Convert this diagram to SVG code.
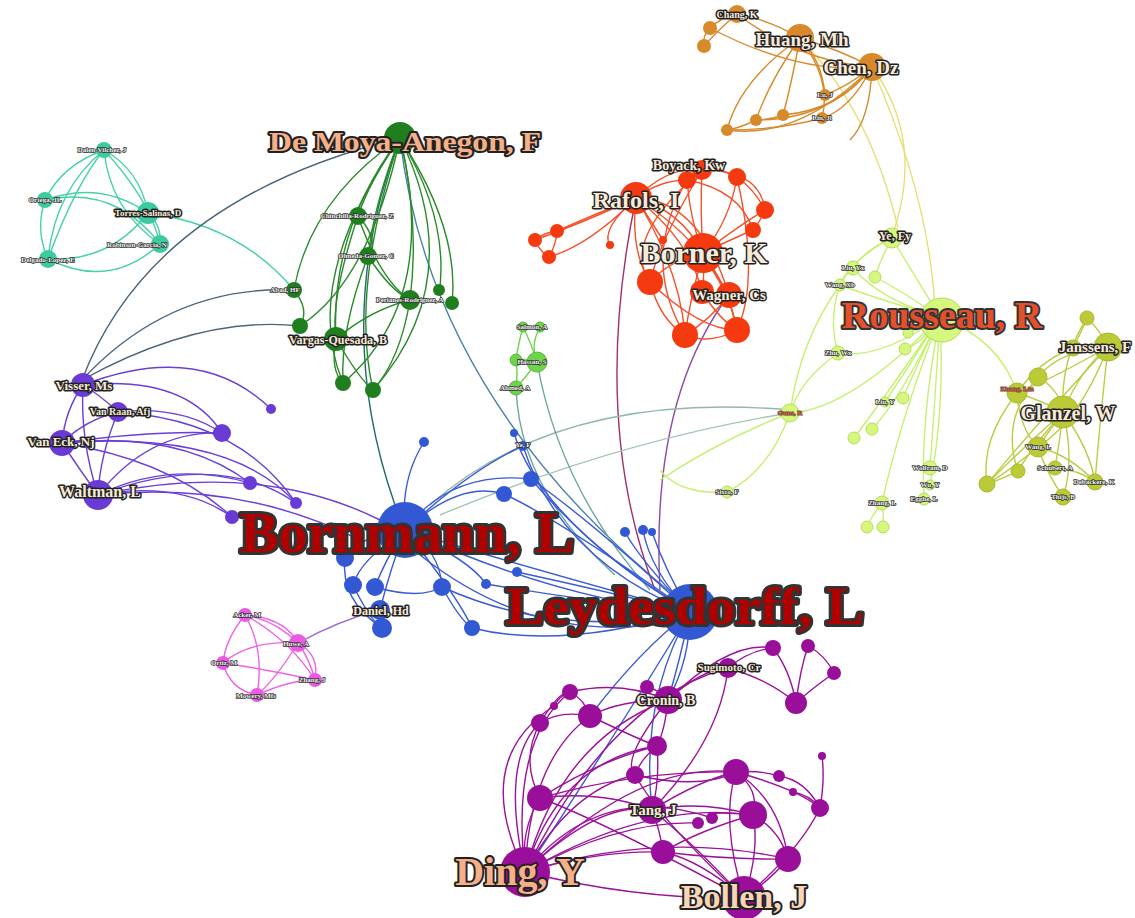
<svg xmlns="http://www.w3.org/2000/svg" width="1135" height="918" viewBox="0 0 1135 918">
<style>
path{fill:none;stroke-width:1.4}
.et{stroke:#45d2a8}.eg{stroke:#2a8a2a}.eo{stroke:#d8892a}.er{stroke:#f5502a}.el{stroke:#c8f070}.eol{stroke:#bccc44}
.ep{stroke:#6a3ed8}.epk{stroke:#ee62e6}.eb{stroke:#3a5ad8}.em{stroke:#9a129a}.esg{stroke:#70d450}
.ngrey{stroke:#4c6478}.ny{stroke:#e6e07a}
.nt{fill:#3ccaa0}.ng{fill:#1f7f1f}.no{fill:#d8892a}.nr{fill:#f53a10}.nl{fill:#d6f77e;stroke:#b4dc5c;stroke-width:1}.nol{fill:#bcca38;stroke:#a8b830;stroke-width:1}
.np{fill:#6a3ad6}.npk{fill:#ea5ae2}.nb{fill:#3358d4}.nm{fill:#990f99}.nsg{fill:#6ed44a;stroke:#58b83a;stroke-width:1}
text{font-family:"Liberation Serif",serif;font-weight:bold;text-anchor:middle;paint-order:stroke;stroke-linejoin:round}
.s{font-size:7px;fill:#f2f2f2;stroke:#333;stroke-width:1.5}
.m{fill:#f8ead8;stroke:#222;stroke-width:3}
.big{fill:#b00000;stroke:#333;stroke-width:6}
.ro{fill:#e4502c;stroke:#333;stroke-width:4}
.pe{fill:#f5b08a;stroke:#222;stroke-width:4}
.pl{fill:#f8d4b8;stroke:#222;stroke-width:4}
.rs{font-size:7px;fill:#e8562a;stroke:#555;stroke-width:1.2}
</style>
<rect width="1135" height="918" fill="#ffffff"/>
<g id="connectors">
<path class="et" d="M104 150 Q62 165 45 200"/>
<path class="et" d="M104 150 Q140 170 148 213"/>
<path class="et" d="M104 150 Q110 210 160 244"/>
<path class="et" d="M104 150 Q55 190 48 259"/>
<path class="et" d="M104 150 Q75 185 48 259"/>
<path class="et" d="M45 200 Q100 180 148 213"/>
<path class="et" d="M45 200 Q115 185 160 244"/>
<path class="et" d="M45 200 Q35 230 48 259"/>
<path class="et" d="M148 213 Q110 262 48 259"/>
<path class="et" d="M160 244 Q110 290 48 259"/>
<path class="et" d="M148 213 Q162 226 160 244"/>
<path class="et" d="M104 150 Q150 200 160 244"/>
<path class="et" d="M148 213 Q240 225 294 290"/>
<path class="ngrey" d="M82 380 Q150 200 400 138"/>
<path class="ngrey" d="M82 380 Q170 285 294 290"/>
<path class="ngrey" d="M82 380 Q200 315 300 326"/>
<path stroke="#1d6b6b" d="M400 138 Q330 320 395 505"/>
<path stroke="#4a82a8" d="M400 138 Q430 400 680 600"/>
<path stroke="#a0306a" stroke-width="2" d="M636 198 Q590 420 655 590"/>
<path stroke="#8a4aa8" d="M729 295 Q650 400 660 590"/>
<path stroke="#8fb8a6" d="M430 505 Q560 390 790 410"/>
<path stroke="#a0c8b0" d="M440 515 Q620 440 790 413"/>
<path stroke="#6aa8a0" d="M516 388 Q520 490 615 575"/>
<path stroke="#6aa8a0" d="M537 362 Q560 490 650 590"/>
<path class="ny" d="M872 67 Q925 140 893 233"/>
<path class="ny" d="M800 38 Q870 110 898 228"/>
<path class="ny" d="M872 67 Q930 200 935 310"/>
<path stroke="#a070d8" d="M298 643 Q340 620 380 610"/>
<path class="eg" stroke-width="2" d="M400 138 Q310 200 294 290"/>
<path class="eg" stroke-width="2" d="M400 138 Q370 280 300 326"/>
<path class="eg" d="M400 138 Q370 180 358 216"/>
<path class="eg" d="M400 138 Q375 200 368 256"/>
<path class="eg" d="M400 138 Q330 230 336 339"/>
<path class="eg" d="M400 138 Q420 220 410 300"/>
<path class="eg" d="M400 138 Q450 220 439 295"/>
<path class="eg" stroke-width="2" d="M400 138 Q460 230 452 303"/>
<path class="eg" d="M400 138 Q470 280 373 390"/>
<path class="eg" d="M400 138 Q440 300 343 383"/>
<path class="eg" d="M400 138 Q300 280 343 383"/>
<path class="eg" d="M400 138 Q350 290 373 390"/>
<path class="eg" d="M358 216 Q380 240 368 256"/>
<path class="eg" d="M358 216 Q330 300 336 339"/>
<path class="eg" d="M368 256 Q390 290 410 300"/>
<path class="eg" d="M358 216 Q380 280 410 300"/>
<path class="eg" d="M294 290 Q310 310 300 326"/>
<path class="eg" d="M336 339 Q370 310 410 300"/>
<path class="eg" d="M336 339 Q330 370 343 383"/>
<path class="eg" d="M336 339 Q360 380 373 390"/>
<path class="eg" d="M410 300 Q400 360 373 390"/>
<path class="eg" d="M368 256 Q340 330 343 383"/>
<path class="eo" d="M737 14 Q720 18 710 28"/>
<path class="eo" d="M710 28 Q702 36 704 46"/>
<path class="eo" d="M737 14 Q718 30 704 46"/>
<path class="eo" stroke-width="2" d="M737 14 Q770 20 800 38"/>
<path class="eo" d="M737 14 Q800 62 872 67"/>
<path class="eo" d="M710 28 Q800 75 872 67"/>
<path class="eo" stroke-width="5" d="M800 38 Q840 50 872 67"/>
<path class="eo" stroke-width="3" d="M800 38 Q790 90 783 115"/>
<path class="eo" d="M800 38 Q740 80 727 130"/>
<path class="eo" d="M800 38 Q770 80 756 120"/>
<path class="eo" d="M800 38 Q822 60 825 95"/>
<path class="eo" d="M800 38 Q832 80 822 118"/>
<path class="eo" stroke-width="3" d="M872 67 Q840 110 783 115"/>
<path class="eo" d="M872 67 Q830 120 756 120"/>
<path class="eo" d="M872 67 Q800 140 727 130"/>
<path class="eo" d="M872 67 Q850 85 825 95"/>
<path class="eo" d="M872 67 Q850 110 822 118"/>
<path class="eo" d="M756 120 Q740 128 727 130"/>
<path class="eo" d="M783 115 Q770 120 756 120"/>
<path class="eo" d="M727 130 Q780 130 822 118"/>
<path class="eo" d="M872 67 Q870 120 850 140"/>
<path class="er" d="M636 198 Q670 165 702 170"/>
<path class="er" d="M636 198 Q660 180 687 180"/>
<path class="er" d="M636 198 Q680 210 703 253"/>
<path class="er" d="M636 198 Q630 250 650 282"/>
<path class="er" d="M636 198 Q690 240 702 292"/>
<path class="er" d="M636 198 Q680 270 685 335"/>
<path class="er" d="M636 198 Q720 250 737 330"/>
<path class="er" d="M636 198 Q585 222 535 240"/>
<path class="er" d="M636 198 Q600 212 557 231"/>
<path class="er" d="M636 198 Q590 245 549 257"/>
<path class="er" d="M636 198 Q600 230 610 245"/>
<path class="er" d="M636 198 Q650 220 663 240"/>
<path class="er" d="M636 198 Q700 200 729 295"/>
<path class="er" d="M535 240 Q545 232 557 231"/>
<path class="er" d="M535 240 Q540 252 549 257"/>
<path class="er" d="M557 231 Q556 245 549 257"/>
<path class="er" d="M703 253 Q700 210 702 170"/>
<path class="er" d="M703 253 Q690 220 687 180"/>
<path class="er" d="M703 253 Q730 220 737 177"/>
<path class="er" d="M703 253 Q740 225 765 210"/>
<path class="er" d="M703 253 Q730 240 753 230"/>
<path class="er" d="M703 253 Q670 260 650 282"/>
<path class="er" d="M703 253 Q705 275 702 292"/>
<path class="er" d="M703 253 Q720 280 729 295"/>
<path class="er" d="M703 253 Q690 300 685 335"/>
<path class="er" d="M703 253 Q730 290 737 330"/>
<path class="er" d="M702 170 Q720 168 737 177"/>
<path class="er" d="M737 177 Q755 190 765 210"/>
<path class="er" d="M765 210 Q760 222 753 230"/>
<path class="er" d="M702 170 Q760 170 765 210"/>
<path class="er" d="M687 180 Q740 190 753 230"/>
<path class="er" d="M650 282 Q660 320 685 335"/>
<path class="er" d="M650 282 Q700 330 737 330"/>
<path class="er" d="M702 292 Q720 320 737 330"/>
<path class="er" d="M729 295 Q710 320 685 335"/>
<path class="er" d="M687 180 Q640 260 685 335"/>
<path class="er" d="M702 170 Q660 240 650 282"/>
<path class="er" d="M737 177 Q760 280 737 330"/>
<path class="er" d="M685 335 Q710 345 737 330"/>
<path class="er" d="M650 282 Q620 240 702 170"/>
<path class="el" stroke-width="4" d="M940 317 Q905 260 892 238"/>
<path class="el" d="M940 317 Q880 300 853 268"/>
<path class="el" d="M940 317 Q900 290 875 277"/>
<path class="el" d="M940 317 Q880 300 840 285"/>
<path class="el" stroke-width="3" d="M940 317 Q880 360 838 353"/>
<path class="el" d="M940 317 Q920 330 908 333"/>
<path class="el" d="M940 317 Q920 345 905 349"/>
<path class="el" stroke-width="4" d="M940 317 Q850 410 790 413"/>
<path class="el" d="M940 317 Q900 380 885 402"/>
<path class="el" d="M940 317 Q915 370 903 398"/>
<path class="el" d="M940 317 Q900 400 872 429"/>
<path class="el" d="M940 317 Q890 390 854 438"/>
<path class="el" d="M940 317 Q935 400 930 468"/>
<path class="el" d="M940 317 Q945 410 930 485"/>
<path class="el" d="M940 317 Q920 420 924 499"/>
<path class="el" d="M940 317 Q900 420 882 503"/>
<path class="el" d="M882 503 Q872 515 867 527"/>
<path class="el" d="M882 503 Q884 515 883 527"/>
<path class="el" d="M940 317 Q1000 340 1017 393"/>
<path class="el" d="M892 238 Q865 250 853 268"/>
<path class="el" d="M892 238 Q880 260 875 277"/>
<path class="el" d="M892 238 Q850 260 840 285"/>
<path class="el" d="M840 285 Q828 320 838 353"/>
<path class="el" d="M838 353 Q800 380 790 413"/>
<path class="el" d="M840 285 Q800 340 790 413"/>
<path class="el" d="M790 413 Q720 440 660 480"/>
<path class="el" d="M727 492 Q680 495 660 470"/>
<path class="el" d="M790 413 Q770 470 727 492"/>
<path class="el" d="M853 268 Q845 275 840 285"/>
<path class="eol" d="M1087 318 Q1100 330 1108 347"/>
<path class="eol" d="M1087 318 Q1080 335 1073 348"/>
<path class="eol" d="M1087 318 Q1060 360 1063 412"/>
<path class="eol" d="M1108 347 Q1080 370 1063 412"/>
<path class="eol" d="M1108 347 Q1060 350 1038 377"/>
<path class="eol" d="M1108 347 Q1050 380 1017 393"/>
<path class="eol" d="M1108 347 Q1080 420 1038 447"/>
<path class="eol" d="M1108 347 Q1040 420 987 484"/>
<path class="eol" d="M1108 347 Q1100 420 1095 482"/>
<path class="eol" d="M1073 348 Q1090 345 1108 347"/>
<path class="eol" d="M1073 348 Q1040 360 1017 393"/>
<path class="eol" d="M1038 377 Q1060 390 1063 412"/>
<path class="eol" d="M1017 393 Q1040 400 1063 412"/>
<path class="eol" d="M1017 393 Q1020 430 1038 447"/>
<path class="eol" d="M1017 393 Q980 440 987 484"/>
<path class="eol" d="M1063 412 Q1050 430 1038 447"/>
<path class="eol" d="M1063 412 Q1030 450 1018 471"/>
<path class="eol" d="M1063 412 Q1010 460 987 484"/>
<path class="eol" d="M1063 412 Q1060 440 1055 468"/>
<path class="eol" d="M1063 412 Q1090 450 1095 482"/>
<path class="eol" d="M1063 412 Q1075 460 1063 497"/>
<path class="eol" d="M1038 447 Q1045 470 1063 497"/>
<path class="eol" d="M1038 447 Q1070 455 1095 482"/>
<path class="eol" d="M1055 468 Q1080 470 1095 482"/>
<path class="eol" d="M1038 447 Q1010 470 987 484"/>
<path class="eol" d="M1018 471 Q1000 480 987 484"/>
<path class="eol" d="M1038 377 Q1000 420 1018 471"/>
<path class="ep" stroke-width="12" d="M62 443 Q80 470 98 495"/>
<path class="ep" stroke-width="4" d="M83 385 Q65 410 62 443"/>
<path class="ep" stroke-width="3" d="M83 385 Q80 440 98 495"/>
<path class="ep" stroke-width="2" d="M118 412 Q100 455 98 495"/>
<path class="ep" d="M118 412 Q85 420 62 443"/>
<path class="ep" d="M83 385 Q100 395 118 412"/>
<path class="ep" stroke-width="4" d="M83 385 Q185 375 222 433"/>
<path class="ep" stroke-width="3" d="M118 412 Q180 405 222 433"/>
<path class="ep" stroke-width="2" d="M62 443 Q150 430 222 433"/>
<path class="ep" stroke-width="3" d="M98 495 Q150 430 222 433"/>
<path class="ep" d="M83 385 Q200 340 271 409"/>
<path class="ep" d="M62 443 Q180 430 250 483"/>
<path class="ep" d="M98 495 Q170 460 250 483"/>
<path class="ep" d="M62 443 Q230 430 296 503"/>
<path class="ep" d="M98 495 Q220 450 296 503"/>
<path class="ep" d="M118 412 Q240 420 296 503"/>
<path class="ep" d="M98 495 Q180 480 232 517"/>
<path class="ep" d="M62 443 Q170 460 232 517"/>
<path class="ep" d="M98 495 Q260 460 380 520"/>
<path class="ep" d="M98 495 Q240 480 360 540"/>
<path class="epk" d="M245 615 Q275 620 298 643"/>
<path class="epk" d="M245 615 Q285 618 298 643"/>
<path class="epk" d="M245 615 Q225 640 223 663"/>
<path class="epk" d="M245 615 Q290 640 315 680"/>
<path class="epk" d="M245 615 Q265 650 257 695"/>
<path class="epk" d="M298 643 Q250 640 223 663"/>
<path class="epk" d="M298 643 Q310 660 315 680"/>
<path class="epk" d="M298 643 Q320 655 315 680"/>
<path class="epk" d="M298 643 Q275 680 257 695"/>
<path class="epk" d="M223 663 Q230 690 257 695"/>
<path class="epk" d="M223 663 Q270 670 315 680"/>
<path class="epk" d="M257 695 Q290 680 315 680"/>
<path class="eb" stroke-width="8" d="M420 555 Q540 650 680 620"/>
<path class="eb" stroke-width="3" d="M405 530 Q560 600 690 612"/>
<path class="eb" d="M405 530 Q400 480 424 442"/>
<path class="eb" d="M405 530 Q450 470 531 479"/>
<path class="eb" d="M405 530 Q460 480 504 494"/>
<path class="eb" d="M405 530 Q470 470 523 446"/>
<path class="eb" d="M690 612 Q560 560 523 446"/>
<path class="eb" d="M690 612 Q540 520 514 433"/>
<path class="eb" d="M690 612 Q590 520 531 479"/>
<path class="eb" d="M690 612 Q560 520 504 494"/>
<path class="eb" d="M690 612 Q600 560 531 479"/>
<path class="eb" d="M690 612 Q640 560 625 532"/>
<path class="eb" d="M690 612 Q650 570 643 530"/>
<path class="eb" d="M690 612 Q665 570 652 532"/>
<path class="eb" d="M690 612 Q600 590 517 572"/>
<path class="eb" d="M690 612 Q580 600 486 584"/>
<path class="eb" d="M690 612 Q560 640 442 587"/>
<path class="eb" d="M690 612 Q560 650 472 628"/>
<path class="eb" d="M690 612 Q500 560 405 530"/>
<path class="eb" stroke-width="3" d="M405 530 Q360 535 345 558"/>
<path class="eb" stroke-width="3" d="M405 530 Q360 560 353 585"/>
<path class="eb" stroke-width="5" d="M405 530 Q385 560 375 587"/>
<path class="eb" stroke-width="6" d="M405 530 Q390 570 380 610"/>
<path class="eb" stroke-width="5" d="M405 530 Q440 550 442 587"/>
<path class="eb" d="M405 530 Q470 560 486 584"/>
<path class="eb" d="M405 530 Q460 600 472 628"/>
<path class="eb" d="M380 610 Q385 620 382 628"/>
<path class="eb" d="M345 558 Q340 600 382 628"/>
<path class="eb" d="M353 585 Q370 620 382 628"/>
<path class="eb" d="M442 587 Q460 620 472 628"/>
<path class="eb" d="M375 587 Q420 600 442 587"/>
<path class="eb" d="M690 612 Q680 660 668 700"/>
<path class="eb" d="M690 612 Q690 660 668 700"/>
<path class="eb" d="M690 612 Q640 700 652 810"/>
<path class="eb" d="M690 612 Q600 760 525 872"/>
<path class="eb" d="M690 612 Q640 650 590 716"/>
<path class="esg" d="M523 327 Q532 345 537 362"/>
<path class="esg" d="M540 327 Q530 345 537 362"/>
<path class="esg" d="M523 327 Q518 345 516 360"/>
<path class="esg" d="M516 360 Q518 375 516 388"/>
<path class="esg" d="M537 362 Q525 378 516 388"/>
<path class="esg" d="M516 360 Q528 358 537 362"/>
<path class="em" d="M525 872 Q500 760 540 723"/>
<path class="em" d="M525 872 Q510 740 570 692"/>
<path class="em" d="M525 872 Q530 760 590 716"/>
<path class="em" d="M525 872 Q560 760 657 746"/>
<path class="em" d="M525 872 Q570 790 635 775"/>
<path class="em" d="M525 872 Q520 830 540 798"/>
<path class="em" d="M525 872 Q600 800 652 810"/>
<path class="em" d="M525 872 Q600 850 663 852"/>
<path class="em" d="M525 872 Q640 760 736 772"/>
<path class="em" d="M525 872 Q650 800 753 815"/>
<path class="em" d="M525 872 Q660 830 788 859"/>
<path class="em" d="M525 872 Q640 900 744 898"/>
<path class="em" d="M525 872 Q560 740 668 700"/>
<path class="em" d="M525 872 Q620 820 698 823"/>
<path class="em" d="M525 872 Q470 760 554 706"/>
<path class="em" d="M525 872 Q600 780 712 818"/>
<path class="em" d="M525 872 Q610 700 728 668"/>
<path class="em" d="M744 898 Q690 840 652 810"/>
<path class="em" d="M744 898 Q700 860 663 852"/>
<path class="em" d="M744 898 Q760 850 753 815"/>
<path class="em" d="M744 898 Q720 820 736 772"/>
<path class="em" d="M744 898 Q770 880 788 859"/>
<path class="em" d="M744 898 Q800 850 820 808"/>
<path class="em" d="M744 898 Q660 820 635 775"/>
<path class="em" d="M744 898 Q600 820 540 798"/>
<path class="em" d="M668 700 Q660 690 647 687"/>
<path class="em" d="M668 700 Q620 680 570 692"/>
<path class="em" d="M668 700 Q620 700 590 716"/>
<path class="em" d="M668 700 Q665 730 657 746"/>
<path class="em" d="M668 700 Q700 670 728 668"/>
<path class="em" d="M668 700 Q730 640 773 648"/>
<path class="em" d="M668 700 Q620 760 635 775"/>
<path class="em" d="M728 668 Q750 650 773 648"/>
<path class="em" d="M728 668 Q770 680 796 703"/>
<path class="em" d="M728 668 Q720 740 652 810"/>
<path class="em" d="M773 648 Q790 670 796 703"/>
<path class="em" d="M808 646 Q800 670 796 703"/>
<path class="em" stroke-width="3" d="M834 673 Q810 690 796 703"/>
<path class="em" d="M808 646 Q825 655 834 673"/>
<path class="em" d="M570 692 Q560 695 554 706"/>
<path class="em" d="M570 692 Q585 700 590 716"/>
<path class="em" d="M540 723 Q560 710 590 716"/>
<path class="em" d="M540 723 Q560 690 570 692"/>
<path class="em" d="M657 746 Q640 760 635 775"/>
<path class="em" d="M657 746 Q600 760 540 798"/>
<path class="em" d="M657 746 Q660 780 652 810"/>
<path class="em" d="M540 798 Q600 790 652 810"/>
<path class="em" d="M540 798 Q640 770 736 772"/>
<path class="em" d="M652 810 Q700 780 736 772"/>
<path class="em" d="M652 810 Q660 830 663 852"/>
<path class="em" d="M652 810 Q700 800 753 815"/>
<path class="em" d="M663 852 Q700 830 753 815"/>
<path class="em" d="M736 772 Q760 790 753 815"/>
<path class="em" d="M736 772 Q780 800 788 859"/>
<path class="em" d="M753 815 Q780 830 788 859"/>
<path class="em" d="M736 772 Q760 770 779 776"/>
<path class="em" d="M779 776 Q805 780 820 808"/>
<path class="em" d="M793 792 Q810 795 820 808"/>
<path class="em" d="M822 756 Q825 780 820 808"/>
<path class="em" d="M736 772 Q800 790 820 808"/>
<path class="em" d="M753 815 Q700 810 712 818"/>
<path class="em" d="M590 716 Q640 740 657 746"/>
<path class="em" d="M540 723 Q520 760 540 798"/>
<path class="em" d="M635 775 Q700 790 736 772"/>
<path class="em" d="M663 852 Q730 860 788 859"/>
</g>
<g id="n-teal">
<circle class="nt" cx="104" cy="150" r="8"/><text class="s" x="102" y="152">Dalen-Vilchez, J</text>
<circle class="nt" cx="45" cy="200" r="8"/><text class="s" x="45" y="202">Ortega, JL</text>
<circle class="nt" cx="148" cy="213" r="11"/><text class="m" font-size="9" stroke-width="2" x="148" y="216">Torres-Salinas, D</text>
<circle class="nt" cx="160" cy="244" r="9"/><text class="s" x="137" y="247">Robinson-Garcia, N</text>
<circle class="nt" cx="48" cy="259" r="9"/><text class="s" x="48" y="262">Delgado-Lopez, E</text>
</g>
<g id="n-green">
<circle class="ng" cx="358" cy="216" r="9"/><text class="s" x="357" y="218">Chinchilla-Rodriguez, Z</text>
<circle class="ng" cx="368" cy="256" r="9"/><text class="s" x="366" y="258">Olmeda-Gomez, C</text>
<circle class="ng" cx="294" cy="290" r="8"/><text class="s" x="285" y="292">Abad, HF</text>
<circle class="ng" cx="300" cy="326" r="8"/>
<circle class="ng" cx="336" cy="339" r="12"/><text class="m" font-size="12" stroke-width="2.5" x="338" y="344">Vargas-Quesada, B</text>
<circle class="ng" cx="410" cy="300" r="10"/><text class="s" x="410" y="302">Perianes-Rodriguez, A</text>
<circle class="ng" cx="439" cy="290" r="6"/>
<circle class="ng" cx="452" cy="303" r="7"/>
<circle class="ng" cx="343" cy="383" r="8"/>
<circle class="ng" cx="373" cy="390" r="8"/>
<circle class="ng" cx="400" cy="138" r="16"/>
<text class="pe" font-size="28" x="405" y="151" textLength="272" lengthAdjust="spacingAndGlyphs">De Moya-Anegon, F</text>
</g>
<g id="n-orange">
<circle class="no" cx="710" cy="28" r="7"/>
<circle class="no" cx="704" cy="46" r="7"/>
<circle class="no" cx="737" cy="14" r="9"/><text class="m" font-size="10" stroke-width="2" x="737" y="18">Chang, K</text>
<circle class="no" cx="825" cy="95" r="6"/><text class="s" x="825" y="97">Lu, J</text>
<circle class="no" cx="822" cy="118" r="6"/><text class="s" x="822" y="120">Lin, Jl</text>
<circle class="no" cx="783" cy="115" r="6"/>
<circle class="no" cx="756" cy="120" r="6"/>
<circle class="no" cx="727" cy="130" r="6"/>
<circle class="no" cx="800" cy="38" r="14"/><text class="m" font-size="19" x="802" y="46">Huang, Mh</text>
<circle class="no" cx="872" cy="67" r="14"/><text class="m" font-size="19" x="861" y="74">Chen, Dz</text>
</g>
<g id="n-red">
<circle class="nr" cx="535" cy="240" r="7"/>
<circle class="nr" cx="557" cy="231" r="7"/>
<circle class="nr" cx="549" cy="257" r="7"/>
<circle class="nr" cx="610" cy="245" r="4"/>
<circle class="nr" cx="663" cy="240" r="4"/>
<circle class="nr" cx="702" cy="170" r="10"/>
<circle class="nr" cx="687" cy="180" r="9"/>
<circle class="nr" cx="737" cy="177" r="9"/>
<circle class="nr" cx="765" cy="210" r="9"/>
<circle class="nr" cx="753" cy="230" r="8"/>
<circle class="nr" cx="650" cy="282" r="13"/>
<circle class="nr" cx="702" cy="292" r="12"/>
<circle class="nr" cx="729" cy="295" r="13"/>
<circle class="nr" cx="685" cy="335" r="13"/>
<circle class="nr" cx="737" cy="330" r="13"/>
<circle class="nr" cx="636" cy="198" r="16"/>
<circle class="nr" cx="703" cy="253" r="20"/>
<text class="m" font-size="14" stroke-width="2.5" x="689" y="170">Boyack, Kw</text>
<text class="m" font-size="24" x="636" y="208">Rafols, I</text>
<text class="m" font-size="30" x="704" y="263">Borner, K</text>
<text class="m" font-size="15" stroke-width="2.5" x="729" y="300">Wagner, Cs</text>
</g>
<g id="n-lightgreen">
<circle class="nl" cx="892" cy="238" r="10"/><text class="m" font-size="12" stroke-width="2.5" x="895" y="240">Ye, Fy</text>
<circle class="nl" cx="853" cy="268" r="7"/><text class="s" x="853" y="270">Liu, Yx</text>
<circle class="nl" cx="875" cy="277" r="6"/>
<circle class="nl" cx="840" cy="285" r="6"/><text class="s" x="840" y="287">Wang, Xb</text>
<circle class="nl" cx="838" cy="353" r="7"/><text class="s" x="838" y="355">Zhu, Wx</text>
<circle class="nl" cx="908" cy="333" r="5"/>
<circle class="nl" cx="905" cy="349" r="6"/>
<circle class="nl" cx="790" cy="413" r="9"/><text class="rs" x="790" y="415">Guns, R</text>
<circle class="nl" cx="885" cy="402" r="5"/><text class="s" x="885" y="404">Liu, Y</text>
<circle class="nl" cx="903" cy="398" r="6"/>
<circle class="nl" cx="872" cy="429" r="6"/>
<circle class="nl" cx="854" cy="438" r="6"/>
<circle class="nl" cx="930" cy="468" r="7"/><text class="s" x="930" y="470">Wolfram, D</text>
<circle class="nl" cx="930" cy="485" r="5"/><text class="s" x="930" y="487">Wu, Y</text>
<circle class="nl" cx="924" cy="499" r="6"/><text class="s" x="924" y="501">Egghe, L</text>
<circle class="nl" cx="882" cy="503" r="7"/><text class="s" x="882" y="505">Zhang, L</text>
<circle class="nl" cx="867" cy="527" r="6"/>
<circle class="nl" cx="883" cy="527" r="6"/>
<circle class="nl" cx="727" cy="492" r="6"/><text class="s" x="727" y="494">Sixto, F</text>
<circle class="nl" cx="942" cy="320" r="22"/>
<text class="ro" font-size="38" x="942" y="328">Rousseau, R</text>
</g>
<g id="n-olive">
<circle class="nol" cx="1087" cy="318" r="7"/>
<circle class="nol" cx="1073" cy="348" r="8"/>
<circle class="nol" cx="1038" cy="377" r="9"/>
<circle class="nol" cx="1108" cy="347" r="14"/><text class="m" font-size="15" x="1095" y="352">Janssens, F</text>
<circle class="nol" cx="1017" cy="393" r="10"/><text class="rs" font-size="9" x="1017" y="391">Zhang, Lin</text>
<circle class="nol" cx="1063" cy="412" r="16"/><text class="m" font-size="20" x="1068" y="420">Glanzel, W</text>
<circle class="nol" cx="1038" cy="447" r="10"/><text class="s" x="1038" y="449">Wang, L</text>
<circle class="nol" cx="1018" cy="471" r="7"/>
<circle class="nol" cx="987" cy="484" r="8"/>
<circle class="nol" cx="1055" cy="468" r="7"/><text class="s" x="1055" y="470">Schubert, A</text>
<circle class="nol" cx="1095" cy="482" r="8"/><text class="s" x="1094" y="484">Debackere, K</text>
<circle class="nol" cx="1063" cy="497" r="8"/><text class="s" x="1063" y="499">Thijs, B</text>
</g>
<g id="n-purple">
<circle class="np" cx="83" cy="385" r="12"/><text class="m" font-size="13" stroke-width="2.5" x="84" y="390">Visser, Ms</text>
<circle class="np" cx="118" cy="412" r="10"/><text class="m" font-size="10" stroke-width="2" x="120" y="415">Van Raan, Afj</text>
<circle class="np" cx="62" cy="443" r="13"/><text class="m" font-size="13" stroke-width="2.5" x="61" y="446">Van Eck, Nj</text>
<circle class="np" cx="98" cy="495" r="15"/><text class="m" font-size="16" x="100" y="497">Waltman, L</text>
<circle class="np" cx="222" cy="433" r="9"/>
<circle class="np" cx="271" cy="409" r="5"/>
<circle class="np" cx="250" cy="483" r="7"/>
<circle class="np" cx="296" cy="503" r="6"/>
<circle class="np" cx="232" cy="517" r="7"/>
</g>
<g id="n-pink">
<circle class="npk" cx="245" cy="615" r="7"/><text class="s" x="247" y="617">Acker, M</text>
<circle class="npk" cx="298" cy="643" r="9"/><text class="s" font-size="8" x="296" y="646">Huwe, A</text>
<circle class="npk" cx="223" cy="663" r="7"/><text class="s" x="224" y="665">Ortiz, M</text>
<circle class="npk" cx="315" cy="680" r="7"/><text class="s" x="312" y="682">Zhang, J</text>
<circle class="npk" cx="257" cy="695" r="7"/><text class="s" x="256" y="698">Mowery, Mfs</text>
</g>
<g id="n-smallgreen">
<circle class="nsg" cx="523" cy="327" r="5"/>
<circle class="nsg" cx="540" cy="327" r="5"/><text class="s" font-size="6" x="532" y="329">Salmon, A</text>
<circle class="nsg" cx="516" cy="360" r="6"/>
<circle class="nsg" cx="537" cy="362" r="10"/><text class="s" font-size="8" x="532" y="364">Hassan, S</text>
<circle class="nsg" cx="516" cy="388" r="7"/><text class="s" x="515" y="390">Ahmed, A</text>
</g>
<g id="n-blue">
<circle class="nb" cx="424" cy="442" r="5"/>
<circle class="nb" cx="514" cy="433" r="4"/>
<circle class="nb" cx="523" cy="446" r="5"/><text class="s" font-size="5" x="523" y="447">Ye, F</text>
<circle class="nb" cx="531" cy="479" r="8"/>
<circle class="nb" cx="504" cy="494" r="8"/>
<circle class="nb" cx="345" cy="558" r="9"/>
<circle class="nb" cx="353" cy="585" r="9"/>
<circle class="nb" cx="375" cy="587" r="9"/>
<circle class="nb" cx="442" cy="587" r="9"/>
<circle class="nb" cx="486" cy="584" r="5"/>
<circle class="nb" cx="517" cy="572" r="5"/>
<circle class="nb" cx="382" cy="628" r="10"/>
<circle class="nb" cx="472" cy="628" r="8"/>
<circle class="nb" cx="625" cy="532" r="5"/>
<circle class="nb" cx="643" cy="530" r="5"/>
<circle class="nb" cx="652" cy="532" r="4"/>
<circle class="nb" cx="380" cy="610" r="10"/>
<circle class="nb" cx="405" cy="530" r="28"/>
<circle class="nb" cx="690" cy="612" r="28"/>
<text class="m" font-size="12" stroke-width="2.5" x="381" y="615">Daniel, Hd</text>
<text class="big" font-size="56" x="407" y="552" textLength="334" lengthAdjust="spacingAndGlyphs">Bornmann, L</text>
<text class="big" font-size="52" x="685" y="624" textLength="358" lengthAdjust="spacingAndGlyphs">Leydesdorff, L</text>
</g>
<g id="n-magenta">
<circle class="nm" cx="773" cy="648" r="8"/>
<circle class="nm" cx="808" cy="646" r="7"/>
<circle class="nm" cx="834" cy="673" r="7"/>
<circle class="nm" cx="796" cy="703" r="11"/>
<circle class="nm" cx="647" cy="687" r="7"/>
<circle class="nm" cx="570" cy="692" r="8"/>
<circle class="nm" cx="554" cy="706" r="4"/>
<circle class="nm" cx="590" cy="716" r="12"/>
<circle class="nm" cx="540" cy="723" r="9"/>
<circle class="nm" cx="657" cy="746" r="10"/>
<circle class="nm" cx="635" cy="775" r="9"/>
<circle class="nm" cx="540" cy="798" r="13"/>
<circle class="nm" cx="736" cy="772" r="13"/>
<circle class="nm" cx="753" cy="815" r="14"/>
<circle class="nm" cx="698" cy="823" r="6"/>
<circle class="nm" cx="712" cy="818" r="6"/>
<circle class="nm" cx="779" cy="776" r="6"/>
<circle class="nm" cx="793" cy="792" r="4"/>
<circle class="nm" cx="822" cy="756" r="4"/>
<circle class="nm" cx="820" cy="808" r="9"/>
<circle class="nm" cx="663" cy="852" r="12"/>
<circle class="nm" cx="788" cy="859" r="13"/>
<circle class="nm" cx="728" cy="668" r="10"/><text class="m" font-size="11" stroke-width="2" x="729" y="671">Sugimoto, Cr</text>
<circle class="nm" cx="668" cy="700" r="14"/><text class="m" font-size="14" stroke-width="2.5" x="666" y="705">Cronin, B</text>
<circle class="nm" cx="652" cy="810" r="14"/><text class="m" font-size="15" stroke-width="2.5" x="653" y="815">Tang, J</text>
<circle class="nm" cx="525" cy="872" r="25"/>
<circle class="nm" cx="744" cy="898" r="22"/>
<text class="pe" font-size="40" x="520" y="885">Ding, Y</text>
<text class="pl" font-size="34" x="744" y="908">Bollen, J</text>
</g>
</svg>
